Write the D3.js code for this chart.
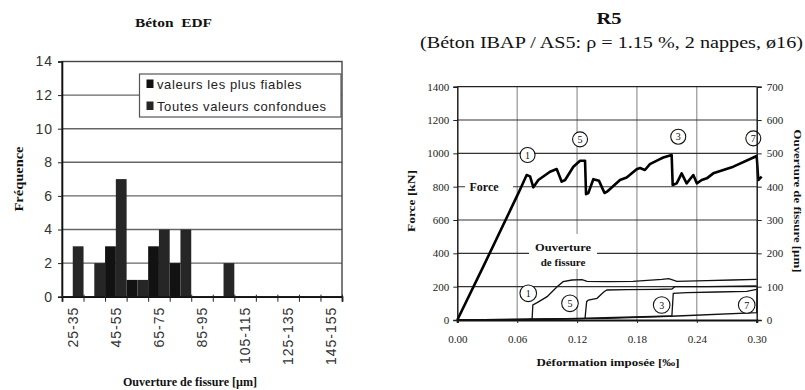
<!DOCTYPE html>
<html>
<head>
<meta charset="utf-8">
<script src="https://cdn.jsdelivr.net/npm/d3@7"></script>
<style>
  body { margin: 0; background: #fff; }
  svg { display: block; }
  .serif { font-family: "Liberation Serif", "Times New Roman", serif; }
  .sans { font-family: "Liberation Sans", Arial, sans-serif; }
</style>
</head>
<body>
<div id="chart"></div>
<script>
// ---- left chart: histogram of crack openings (Béton EDF)
const histCats = ['25-35', '35-45', '45-55', '55-65', '65-75', '75-85', '85-95',
  '95-105', '105-115', '115-125', '125-135', '135-145', '145-155'];
const fiables = [0, 0, 3, 1, 3, 2, 0, 0, 0, 0, 0, 0, 0];
const toutes = [3, 2, 7, 1, 4, 4, 0, 2, 0, 0, 0, 0, 0];
const histSeries = ['valeurs les plus fiables', 'Toutes valeurs confondues'];
const freqTicks = [0, 2, 4, 6, 8, 10, 12, 14];

// ---- right chart: R5 force and crack openings vs imposed strain
const forceX = [0, 0.026, 0.0611, 0.0645, 0.0695, 0.0729, 0.0762, 0.0812, 0.0929, 0.0996,
  0.1046, 0.108, 0.1163, 0.123, 0.128, 0.129, 0.1313, 0.1363, 0.142, 0.1475, 0.150, 0.163,
  0.1697, 0.1797, 0.183, 0.188, 0.193, 0.203, 0.2064, 0.2148, 0.2158, 0.2198, 0.2248,
  0.2298, 0.2365, 0.24, 0.2449, 0.25, 0.2565, 0.2766, 0.30, 0.3016, 0.305];
const forceY = [0, 320, 760, 804, 870, 862, 796, 840, 890, 906,
  830, 840, 920, 956, 956, 755, 762, 845, 835, 762, 770, 840,
  855, 905, 912, 900, 935, 965, 975, 990, 810, 820, 880,
  820, 870, 820, 840, 850, 880, 920, 984, 840, 860];

const crack1X = [0, 0.072, 0.075, 0.0757, 0.08, 0.09, 0.10, 0.106, 0.115, 0.125, 0.13, 0.15, 0.176, 0.205, 0.212, 0.22, 0.25, 0.275, 0.30];
const crack1Y = [0, 0, 5, 45, 52, 70, 100, 115, 120, 121, 116, 115, 116, 122, 124, 116, 118, 120, 122];
const crack5X = [0, 0.06, 0.128, 0.1296, 0.1313, 0.14, 0.147, 0.15, 0.17, 0.20, 0.215, 0.218, 0.25, 0.30];
const crack5Y = [0, 1, 5, 55, 60, 65, 85, 90, 91, 92, 93, 100, 100, 102];
const crack3X = [0, 0.10, 0.215, 0.2164, 0.23, 0.26, 0.29, 0.30];
const crack3Y = [0, 3, 12, 80, 82, 84, 86, 92];
const crack7X = [0, 0.15, 0.22, 0.30, 0.3005];
const crack7Y = [0, 5, 12, 22, 98];

const strainTicks = [0, 0.06, 0.12, 0.18, 0.24, 0.30];
const forceTicks = [0, 200, 400, 600, 800, 1000, 1200, 1400];
const openTicks = [0, 100, 200, 300, 400, 500, 600, 700];

// circled crack numbers: [label, strain, force-scale value]
const topMarks = [['1', 0.0704, 990], ['5', 0.123, 1084], ['3', 0.2214, 1100], ['7', 0.2966, 1090]];
const lowMarks = [['1', 0.0711, 160], ['5', 0.1129, 100], ['3', 0.2048, 90], ['7', 0.29, 90]];

const W = 805, H = 390;
const svg = d3.select('#chart').append('svg')
  .attr('width', W).attr('height', H)
  .attr('viewBox', `0 0 ${W} ${H}`);
svg.append('rect').attr('width', W).attr('height', H).attr('fill', '#fff');

// ================= LEFT =================
const L = { x0: 62, x1: 342, y0: 61.5, y1: 296.7 };
const xb = d3.scaleBand().domain(histCats).range([L.x0, L.x1]).padding(0);
const xs = d3.scaleBand().domain([0, 1]).range([0, xb.bandwidth()]).padding(0);
const xEdge = d3.scaleLinear().domain([0, histCats.length]).range([L.x0, L.x1]);
const yf = d3.scaleLinear().domain([0, 14]).range([L.y1, L.y0]);

const gl = svg.append('g');
// gridlines
gl.selectAll('line.grid').data(freqTicks.slice(1, -1)).enter().append('line')
  .attr('x1', L.x0).attr('x2', L.x1)
  .attr('y1', d => yf(d)).attr('y2', d => yf(d))
  .attr('stroke', '#666').attr('stroke-width', 1.4);
// frame
gl.append('rect').attr('x', L.x0).attr('y', L.y0)
  .attr('width', L.x1 - L.x0).attr('height', L.y1 - L.y0)
  .attr('fill', 'none').attr('stroke', '#444').attr('stroke-width', 1.4);

// bars
const histRows = histCats.map((c, i) => ({ cat: c, vals: [fiables[i], toutes[i]] }));
const barFill = ['#121212', '#262626'];
gl.selectAll('g.cat').data(histRows).enter().append('g')
  .attr('transform', d => `translate(${xb(d.cat)},0)`)
  .selectAll('rect').data(d => d.vals.map((v, k) => ({ v, k }))).enter().append('rect')
  .attr('x', d => xs(d.k))
  .attr('y', d => yf(d.v))
  .attr('width', xs.bandwidth())
  .attr('height', d => yf(0) - yf(d.v))
  .attr('fill', d => barFill[d.k]);

// y axis
const yAxL = gl.append('g').attr('transform', `translate(${L.x0},0)`)
  .call(d3.axisLeft(yf).tickValues(freqTicks).tickSize(4).tickPadding(5).tickFormat(d3.format('d')));
yAxL.select('.domain').attr('stroke', '#111').attr('stroke-width', 1.6);
yAxL.selectAll('.tick line').attr('stroke', '#222');
yAxL.selectAll('text').attr('class', 'sans').style('font-size', '14px')
  .style('letter-spacing', '1px').attr('fill', '#333');

// x axis: tick marks on category edges
const xAxEdge = gl.append('g').attr('transform', `translate(0,${L.y1})`)
  .call(d3.axisBottom(xEdge).ticks(histCats.length).tickSize(5).tickFormat(''));
xAxEdge.select('.domain').attr('stroke', '#111').attr('stroke-width', 1.8);
xAxEdge.selectAll('.tick line').attr('stroke', '#222').attr('y1', -2);

const xAxLab = gl.append('g').attr('transform', `translate(0,${L.y1})`)
  .call(d3.axisBottom(xb).tickValues(histCats.filter((c, i) => i % 2 === 0)).tickSize(0));
xAxLab.select('.domain').remove();
xAxLab.selectAll('text')
  .attr('class', 'sans')
  .attr('transform', 'rotate(-90)')
  .attr('text-anchor', 'end')
  .attr('x', -10).attr('y', 0).attr('dy', '0.36em')
  .style('font-size', '14px').style('letter-spacing', '1px').attr('fill', '#333');

// legend
const lg = gl.append('g');
lg.append('rect').attr('x', 139.5).attr('y', 74).attr('width', 201.5).attr('height', 43)
  .attr('fill', '#fff').attr('stroke', '#555').attr('stroke-width', 1.2);
histSeries.forEach((s, k) => {
  const yy = 84 + k * 22;
  lg.append('rect').attr('x', 146.5).attr('y', yy - 4.5).attr('width', 7).attr('height', 8.5)
    .attr('fill', barFill[k]);
  lg.append('text').attr('class', 'sans').attr('x', 157).attr('y', yy).attr('dy', '0.36em')
    .style('font-size', '13px').style('letter-spacing', '0.6px').attr('fill', '#222').text(s);
});

// titles
svg.append('text').attr('class', 'serif').attr('x', 173.5).attr('y', 27)
  .attr('text-anchor', 'middle').style('font-size', '12px').style('font-weight', 'bold')
  .attr('textLength', 77).attr('lengthAdjust', 'spacingAndGlyphs')
  .attr('fill', '#111').attr('xml:space', 'preserve').text('Béton  EDF');
svg.append('text').attr('class', 'serif')
  .attr('transform', 'translate(23,179) rotate(-90)')
  .attr('text-anchor', 'middle').style('font-size', '12px').style('font-weight', 'bold')
  .attr('textLength', 65).attr('lengthAdjust', 'spacingAndGlyphs')
  .attr('fill', '#111').text('Fréquence');
svg.append('text').attr('class', 'serif').attr('x', 190).attr('y', 386)
  .attr('text-anchor', 'middle').style('font-size', '13px').style('font-weight', 'bold')
  .attr('textLength', 134).attr('lengthAdjust', 'spacingAndGlyphs')
  .attr('fill', '#111').text('Ouverture de fissure [µm]');

// ================= RIGHT =================
const R = { x0: 457.3, x1: 756.7, y0: 86.7, y1: 320 };
const xr = d3.scaleLinear().domain([0, 0.30]).range([R.x0, R.x1]);
const yl = d3.scaleLinear().domain([0, 1400]).range([R.y1, R.y0]);
const yo = d3.scaleLinear().domain([0, 700]).range([R.y1, R.y0]);

const gr = svg.append('g');
gr.selectAll('line.vg').data(strainTicks.slice(1, -1)).enter().append('line')
  .attr('x1', d => xr(d)).attr('x2', d => xr(d)).attr('y1', R.y0).attr('y2', R.y1)
  .attr('stroke', '#8a8a8a').attr('stroke-width', 1.1);
gr.selectAll('line.hg').data(forceTicks.slice(1, -1)).enter().append('line')
  .attr('x1', R.x0).attr('x2', R.x1).attr('y1', d => yl(d)).attr('y2', d => yl(d))
  .attr('stroke', '#333').attr('stroke-width', 1.1);
gr.append('line').attr('x1', R.x0).attr('x2', R.x1).attr('y1', R.y0).attr('y2', R.y0)
  .attr('stroke', '#222').attr('stroke-width', 1.2);

// label boxes that mask the grid
gr.append('rect').attr('x', 465).attr('y', 180).attr('width', 48).attr('height', 14).attr('fill', '#fff');
gr.append('rect').attr('x', 529).attr('y', 234).attr('width', 68).attr('height', 35).attr('fill', '#fff');
gr.append('text').attr('class', 'serif').attr('x', xr(0.0268)).attr('y', yl(800)).attr('dy', '0.35em')
  .attr('text-anchor', 'middle').style('font-size', '12px').style('font-weight', 'bold')
  .attr('fill', '#111').text('Force');
gr.append('text').attr('class', 'serif').attr('x', xr(0.106)).attr('y', yl(440)).attr('dy', '0.35em')
  .attr('text-anchor', 'middle').style('font-size', '11px').style('font-weight', 'bold')
  .attr('textLength', 56).attr('lengthAdjust', 'spacingAndGlyphs')
  .attr('fill', '#111').text('Ouverture');
gr.append('text').attr('class', 'serif').attr('x', xr(0.106)).attr('y', yl(350)).attr('dy', '0.35em')
  .attr('text-anchor', 'middle').style('font-size', '11px').style('font-weight', 'bold')
  .attr('fill', '#111').text('de fissure');

// crack opening curves (right axis)
const crackLine = d3.line().x(d => xr(d[0])).y(d => yo(d[1]));
[[crack1X, crack1Y], [crack5X, crack5Y], [crack3X, crack3Y], [crack7X, crack7Y]].forEach(([xs_, ys_]) => {
  gr.append('path').datum(xs_.map((x, i) => [x, ys_[i]]))
    .attr('d', crackLine).attr('fill', 'none')
    .attr('stroke', '#111').attr('stroke-width', 1.3);
});

// force curve (left axis)
const forceLine = d3.line().x(d => xr(d[0])).y(d => yl(d[1]));
gr.append('path').datum(forceX.map((x, i) => [x, forceY[i]]))
  .attr('d', forceLine).attr('fill', 'none')
  .attr('stroke', '#000').attr('stroke-width', 2.6).attr('stroke-linejoin', 'round');

// circled numbers
function marks(data, scaleY, r, fs) {
  const g = gr.selectAll(null).data(data).enter().append('g')
    .attr('transform', d => `translate(${xr(d[1])},${scaleY(d[2])})`);
  g.append('circle').attr('r', r).attr('fill', '#fff').attr('stroke', '#111').attr('stroke-width', 1.1);
  g.append('text').attr('class', 'serif').attr('text-anchor', 'middle').attr('dy', '0.35em')
    .style('font-size', fs + 'px').attr('fill', '#111').text(d => d[0]);
}
marks(topMarks, yl, 7.5, 10);
marks(lowMarks, yl, 8.3, 10);

// axes
const axL = gr.append('g').attr('transform', `translate(${R.x0},0)`)
  .call(d3.axisLeft(yl).tickValues(forceTicks).tickSize(4).tickPadding(4).tickFormat(d3.format('d')));
const axR = gr.append('g').attr('transform', `translate(${R.x1},0)`)
  .call(d3.axisRight(yo).tickValues(openTicks).tickSize(5).tickPadding(5).tickFormat(d3.format('d')));
const axB = gr.append('g').attr('transform', `translate(0,${R.y1})`)
  .call(d3.axisBottom(xr).tickValues(strainTicks).tickSize(3).tickPadding(12).tickFormat(d3.format('.2f')));
[axL, axR, axB].forEach(a => {
  a.select('.domain').attr('stroke', '#111').attr('stroke-width', 1.4);
  a.selectAll('.tick line').attr('stroke', '#222');
  a.selectAll('text').attr('class', 'serif').style('font-size', '11px').attr('fill', '#222');
});
axB.select('.domain').attr('stroke-width', 2.2);

// titles
svg.append('text').attr('class', 'serif').attr('x', 609).attr('y', 24)
  .attr('text-anchor', 'middle').style('font-size', '16px').style('font-weight', 'bold')
  .attr('textLength', 25).attr('lengthAdjust', 'spacingAndGlyphs')
  .attr('fill', '#111').text('R5');
svg.append('text').attr('class', 'serif').attr('x', 611.5).attr('y', 48)
  .attr('text-anchor', 'middle').style('font-size', '16px')
  .attr('textLength', 383).attr('lengthAdjust', 'spacingAndGlyphs')
  .attr('fill', '#111').text('(Béton IBAP / AS5: ρ = 1.15 %, 2 nappes, ø16)');
svg.append('text').attr('class', 'serif')
  .attr('transform', 'translate(415,201) rotate(-90)')
  .attr('text-anchor', 'middle').style('font-size', '11px').style('font-weight', 'bold')
  .attr('textLength', 62).attr('lengthAdjust', 'spacingAndGlyphs')
  .attr('fill', '#111').text('Force [kN]');
svg.append('text').attr('class', 'serif')
  .attr('transform', 'translate(794,201) rotate(90)')
  .attr('text-anchor', 'middle').style('font-size', '11px').style('font-weight', 'bold')
  .attr('textLength', 143).attr('lengthAdjust', 'spacingAndGlyphs')
  .attr('fill', '#111').text('Ouverture de fissure [µm]');
svg.append('text').attr('class', 'serif').attr('x', 608).attr('y', 366)
  .attr('text-anchor', 'middle').style('font-size', '11px').style('font-weight', 'bold')
  .attr('textLength', 143).attr('lengthAdjust', 'spacingAndGlyphs')
  .attr('fill', '#111').text('Déformation imposée [‰]');
</script>
</body>
</html>
